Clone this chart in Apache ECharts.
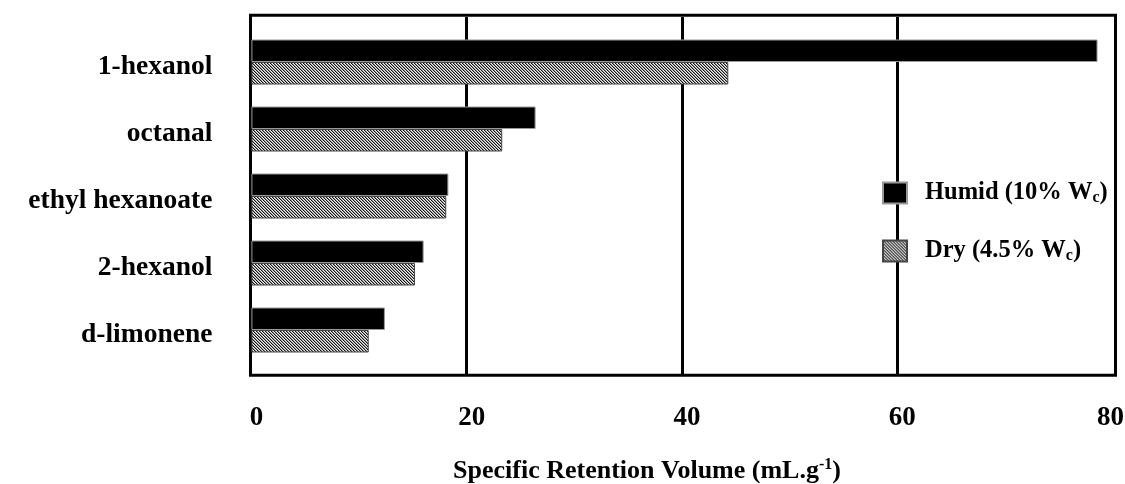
<!DOCTYPE html>
<html><head><meta charset="utf-8">
<script src="https://cdn.jsdelivr.net/npm/echarts@6/dist/echarts.min.js"></script>
<style>html,body{margin:0;padding:0;background:#fff}#c{width:1125px;height:484px}</style>
</head><body><div id="c"></div>
<script>
const categories = ['1-hexanol', 'octanal', 'ethyl hexanoate', '2-hexanol', 'd-limonene'];
const humid = [78.6, 26.4, 18.3, 16.0, 12.4];
const dry = [44.3, 23.3, 18.1, 15.2, 10.9];
const xTicks = [0, 20, 40, 60, 80];
const seriesNames = ['Humid (10% W_c)', 'Dry (4.5% W_c)'];
const axisTitle = ['Specific Retention Volume (mL.g', '-1', ')'];

const FONT = "'Liberation Serif', 'Times New Roman', serif";
const xMax = xTicks[xTicks.length - 1];

const pc = document.createElement('canvas');
pc.width = 3; pc.height = 3;
const g = pc.getContext('2d');
g.fillStyle = '#f0f0f0'; g.fillRect(0, 0, 3, 3);
for (let y = 0; y < 3; y++) for (let x = 0; x < 3; x++) {
  const k = (x - y + 6) % 3;
  if (k === 0) { g.fillStyle = '#111'; g.fillRect(x, y, 1, 1); }
  else if (k === 1) { g.fillStyle = '#999'; g.fillRect(x, y, 1, 1); }
}

const tickStyle = {fontFamily: FONT, fontWeight: 'bold', fontSize: 27, color: '#000'};

const chart = echarts.init(document.getElementById('c'), null, {renderer: 'canvas'});
const option = {
  animation: false,
  backgroundColor: '#fff',
  grid: [
    {left: 250.5, top: 15.3, width: 865, height: 360, show: true, borderColor: '#000', borderWidth: 3, backgroundColor: 'transparent', outerBoundsMode: 'none', containLabel: false},
    {left: 251.4, top: 17, width: 861.2, height: 357, outerBoundsMode: 'none', containLabel: false},
    {left: 251.4, top: 28.5, width: 861.2, height: 335, outerBoundsMode: 'none', containLabel: false}
  ],
  xAxis: [
    {gridIndex: 0, type: 'value', show: false, min: 0, max: 1},
    {gridIndex: 1, type: 'value', min: xTicks[0], max: xMax, interval: xTicks[1] - xTicks[0],
      axisLine: {show: false}, axisTick: {show: false},
      splitLine: {show: true, lineStyle: {color: ['transparent', '#000', '#000', '#000', 'transparent'], width: 3}},
      axisLabel: {margin: 31, formatter: v => v === xMax ? `{e|${v}}` : `{n|${v}}`,
        rich: {n: Object.assign({padding: [0, 0, 0, 10]}, tickStyle), e: Object.assign({padding: [0, 4, 0, 0]}, tickStyle)}},
      name: `{a|${axisTitle[0]}}{s|${axisTitle[1]}}{a|${axisTitle[2]}}`,
      nameLocation: 'middle', nameGap: 83,
      nameTextStyle: {padding: [0, 70, 0, 0], rich: {
        a: {fontFamily: FONT, fontWeight: 'bold', fontSize: 26, color: '#000', lineHeight: 28},
        s: {fontFamily: FONT, fontWeight: 'bold', fontSize: 16, color: '#000', verticalAlign: 'top', lineHeight: 16, padding: [0, 0, 10, 0]}
      }}
    },
    {gridIndex: 2, type: 'value', min: xTicks[0], max: xMax, show: false}
  ],
  yAxis: [
    {gridIndex: 0, type: 'value', show: false},
    {gridIndex: 1, type: 'value', show: false},
    {gridIndex: 2, type: 'category', data: categories, inverse: true,
      axisLine: {show: false}, axisTick: {show: false}, splitLine: {show: false},
      axisLabel: {margin: 39, verticalAlign: 'top', lineHeight: 10, fontFamily: FONT, fontWeight: 'bold', fontSize: 27.5, color: '#000'}}
  ],
  legend: {
    orient: 'vertical', left: 877, top: 173, itemWidth: 24, itemHeight: 21, itemGap: 30, icon: 'rect',
    data: seriesNames,
    formatter: n => { const [a, b] = n.split('_'); return `{g|}{a|${a}}{s|${b[0]}}{a|${b.slice(1)}}`; },
    textStyle: {rich: {
      g: {width: 13},
      a: {fontFamily: FONT, fontWeight: 'bold', fontSize: 24.5, color: '#000', lineHeight: 26},
      s: {fontFamily: FONT, fontWeight: 'bold', fontSize: 16, color: '#000', verticalAlign: 'bottom', lineHeight: 16, padding: [12, 0, 0, 0]}
    }}
  },
  series: [
    {name: seriesNames[0], type: 'bar', xAxisIndex: 2, yAxisIndex: 2, data: humid, barWidth: 22.5, barGap: '0%',
      itemStyle: {color: '#000', borderColor: '#999', borderWidth: 1}},
    {name: seriesNames[1], type: 'bar', xAxisIndex: 2, yAxisIndex: 2, data: dry, barWidth: 22.5, barGap: '0%',
      itemStyle: {color: {image: pc, repeat: 'repeat'}, borderColor: '#444', borderWidth: 1}}
  ]
};
chart.setOption(option);
</script>
</body></html>
